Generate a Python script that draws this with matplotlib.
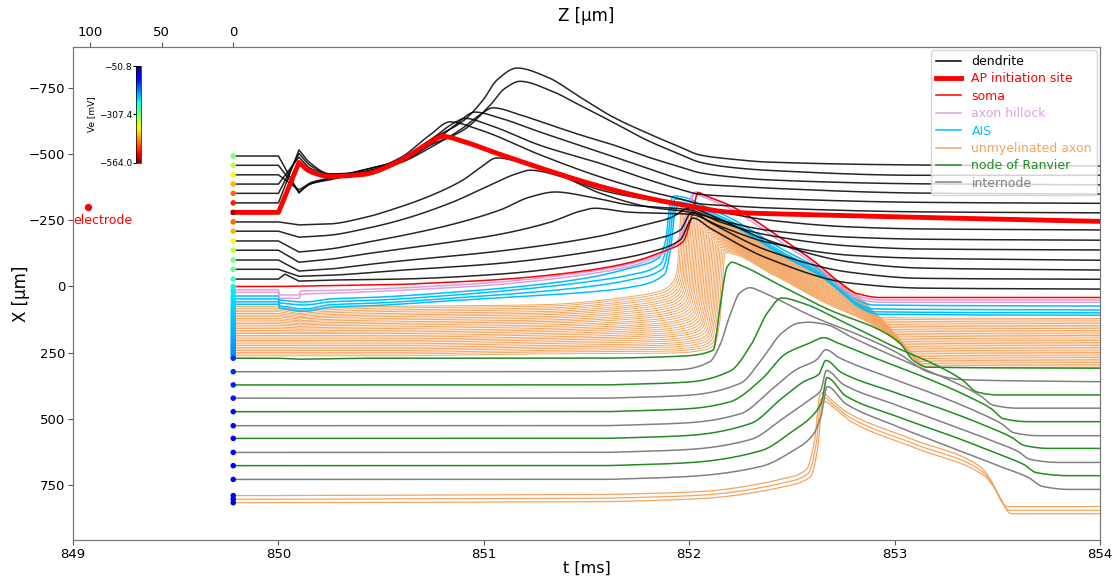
import numpy as np
import matplotlib
matplotlib.use("Agg")
import matplotlib.pyplot as plt
from matplotlib.lines import Line2D
from matplotlib.colors import Normalize
from matplotlib.cm import ScalarMappable

# ---------------- data ----------------
GAIN = 3.778            # um of trace deflection per mV
T0, T1 = 849.78, 854.0  # time span of traces (ms)
STIM_OFF = 850.1
VE_MIN, VE_MAX = -564.0, -50.8
ELECTRODE_T, ELECTRODE_X = 849.075, -301

# dendrites (black) - baseline position X (um), Ve (mV), keypoints (t ms, dV mV)
dend_x = [-493, -458, -422, -387, -352, -316, -244, -209, -172, -137, -100, -65, -28]
dend_ve = [-307, -343, -379, -420, -461, -502, -461, -420, -379, -343, -307, -287, -266]
dend_kp = [
    [(849.78,0),(850.0,0),(850.1,37),(850.154,27),(850.251,22),(850.412,14),(850.592,4),(850.738,-16),(850.899,-35),(850.996,-56),(851.064,-76),(851.162,-88),(851.308,-79),(851.468,-59),(851.629,-39),(851.795,-23),(851.955,-9),(852.053,-1),(852.2,3),(852.379,6),(853.124,9),(854.0,10)],
    [(849.78,0),(850.0,0),(850.1,27),(850.154,19),(850.251,13),(850.412,5),(850.592,-5),(850.738,-20),(850.899,-35),(851.03,-60),(851.103,-77),(851.176,-84),(851.322,-75),(851.468,-60),(851.629,-43),(851.795,-25),(851.955,-11),(852.053,-3),(852.2,2),(852.379,5),(853.124,10),(854.0,10)],
    [(849.78,0),(850.0,0),(850.1,15),(850.154,9),(850.251,5),(850.412,-3),(850.592,-12),(850.738,-27),(850.899,-47),(850.981,-60),(851.045,-67),(851.176,-60),(851.322,-50),(851.468,-40),(851.629,-30),(851.795,-18),(851.955,-8),(852.053,-2),(852.2,2),(852.379,5),(853.124,9),(854.0,10)],
    [(849.78,0),(850.0,0),(850.1,-27),(850.154,-16),(850.251,-9),(850.412,-12),(850.592,-22),(850.738,-39),(850.86,-59),(850.957,-72),(851.079,-66),(851.274,-52),(851.566,-32),(851.795,-16),(851.955,-5),(852.053,0),(852.2,2),(852.379,4),(853.124,9),(854.0,10)],
    [(849.78,0),(850.0,0),(850.1,-40),(850.154,-28),(850.251,-19),(850.412,-21),(850.592,-33),(850.738,-53),(850.86,-71),(850.908,-75),(851.03,-68),(851.274,-48),(851.566,-30),(851.795,-14),(851.955,-4),(852.053,1),(852.2,3),(852.379,5),(853.124,9),(854.0,10)],
    [(849.78,0),(850.0,0),(850.1,-53),(850.154,-40),(850.251,-29),(850.412,-31),(850.592,-45),(850.738,-68),(850.835,-81),(850.981,-73),(851.274,-48),(851.566,-26),(851.795,-12),(851.955,-4),(852.053,1),(852.2,3),(852.379,5),(853.124,9),(854.0,10)],
    [(849.78,0),(850.0,0),(850.1,3),(850.251,2),(850.412,-4),(850.592,-15),(850.738,-26),(850.899,-42),(850.981,-54),(851.064,-64),(851.176,-60),(851.371,-47),(851.566,-32),(851.809,-22),(852.004,-16),(852.15,-10),(852.379,-2),(852.783,5),(853.124,7),(854.0,8)],
    [(849.78,0),(850.0,0),(850.1,6),(850.251,4),(850.412,-2),(850.592,-11),(850.835,-28),(851.03,-46),(851.152,-57),(851.225,-61),(851.371,-55),(851.566,-38),(851.809,-24),(852.004,-19),(852.15,-11),(852.379,-1),(852.783,6),(853.124,8),(854.0,9)],
    [(849.78,0),(850.0,0),(850.1,11),(850.251,8),(850.412,2),(850.592,-5),(850.835,-16),(851.079,-31),(851.225,-44),(851.347,-49),(851.517,-44),(851.712,-36),(852.004,-31),(852.15,-19),(852.379,-6),(852.783,5),(853.124,8),(854.0,9)],
    [(849.78,0),(850.0,0),(850.1,12),(850.251,9),(850.412,4),(850.592,-1),(850.835,-8),(851.079,-16),(851.322,-28),(851.468,-39),(851.541,-42),(851.712,-38),(852.004,-36),(852.15,-24),(852.379,-8),(852.783,5),(853.124,8),(854.0,10)],
    [(849.78,0),(850.0,0),(850.1,11),(850.251,9),(850.412,5),(850.592,1),(851.079,-9),(851.566,-24),(851.76,-34),(851.906,-42),(852.004,-52),(852.101,-45),(852.379,-20),(852.783,2),(853.124,8),(854.0,10)],
    [(849.78,0),(850.0,0),(850.1,7),(850.251,6),(850.592,1),(851.079,-6),(851.566,-19),(851.809,-29),(851.955,-39),(852.013,-57),(852.101,-47),(852.379,-19),(852.783,3),(853.124,9),(854.0,10)],
    [(849.78,0),(850.0,0),(850.032,-5),(850.1,2),(850.251,1),(850.592,0),(851.079,-5),(851.566,-17),(851.809,-27),(851.955,-39),(852.018,-61),(852.101,-51),(852.379,-21),(852.783,4),(853.124,9),(854.0,10)],
]

# AP initiation site (thick red)
apinit_x, apinit_ve = -280, -540
apinit_kp = [(849.78,0),(850.0,0),(850.1,-50),(850.154,-41),(850.251,-36),(850.412,-38),(850.577,-50),(850.738,-70),(850.801,-76),(850.899,-71),(851.079,-58),(851.566,-26),(851.76,-16),(851.955,-8),(852.213,0),(852.539,2),(853.124,5),(854.0,9)]

# soma (thin red)
soma_x, soma_ve = 0, -240
soma_kp = [(849.78,0),(850.0,0),(850.592,-2),(851.079,-7),(851.468,-15),(851.712,-24),(851.872,-35),(851.97,-45),(852.013,-71),(852.043,-94),(852.077,-91),(852.199,-81),(852.442,-49),(852.622,-23),(852.72,-6),(852.817,7),(852.929,11),(854.0,11)]

# axon hillock
hill_x = [13, 22]
hill_ve = [-236, -233]
hill_kp = [
    [(849.78,0),(850.0,0),(850.005,5),(850.1,5),(850.11,1),(850.25,0.5),(850.592,-2),(851.079,-8),(851.468,-17),(851.712,-26),(851.872,-38),(851.955,-50),(852.0,-80),(852.03,-98),(852.07,-95),(852.199,-84),(852.442,-52),(852.622,-26),(852.72,-9),(852.817,6),(852.929,10),(854.0,10)],
    [(849.78,0),(850.0,0),(850.005,6),(850.1,6),(850.11,2),(850.25,1),(850.592,-2),(851.079,-8),(851.468,-17),(851.712,-26),(851.865,-38),(851.945,-52),(851.99,-82),(852.02,-99),(852.06,-96),(852.199,-84),(852.442,-51),(852.622,-26),(852.72,-9),(852.817,6),(852.929,10),(854.0,10)],
]

# AIS (4 lines)
ais_x = [36, 47, 58, 67]
ais_ve = [-230, -228, -226, -224]
ais_kp = [
    [(849.78,0),(850.0,0),(850.005,4),(850.1,6),(850.13,6),(850.25,3),(850.5,1),(850.8,-3),(851.2,-10),(851.5,-18),(851.712,-28),(851.85,-38),(851.885,-55),(851.905,-90),(851.925,-100),(851.99,-98),(852.05,-92),(852.2,-78),(852.442,-48),(852.622,-28),(852.72,-12),(852.8,2),(852.9,9),(854.0,10)],
    [(849.78,0),(850.0,0),(850.005,4),(850.1,6),(850.13,6),(850.25,3),(850.5,1),(850.8,-3),(851.2,-10),(851.5,-17),(851.712,-24),(851.86,-35),(851.893,-55),(851.913,-90),(851.933,-100),(851.995,-98),(852.05,-92),(852.2,-78),(852.442,-48),(852.622,-28),(852.72,-12),(852.8,2),(852.9,10),(854.0,11)],
    [(849.78,0),(850.0,0),(850.005,4),(850.1,7),(850.13,7),(850.25,3),(850.5,1),(850.8,-3),(851.2,-9),(851.5,-15),(851.712,-22),(851.87,-33),(851.901,-55),(851.921,-90),(851.941,-100),(852.0,-98),(852.06,-92),(852.21,-78),(852.45,-48),(852.63,-28),(852.73,-12),(852.81,2),(852.91,10),(854.0,11)],
    [(849.78,0),(850.0,0),(850.005,4),(850.1,7),(850.13,7),(850.25,3),(850.5,1),(850.8,-3),(851.2,-8),(851.5,-12),(851.712,-17),(851.88,-30),(851.909,-55),(851.929,-90),(851.949,-100),(852.005,-98),(852.07,-92),(852.22,-78),(852.46,-48),(852.64,-28),(852.74,-12),(852.82,2),(852.92,10),(854.0,11)],
]

# unmyelinated axon (30 lines): baseline X, Ve, AP peak time, end-of-repolarisation time, pre-AP depolarisation, stimulus dip
ax_x = [76, 82, 89, 95, 102, 108, 114, 121, 127, 134, 140, 146, 153, 159, 166,
        172, 178, 185, 191, 198, 204, 210, 217, 223, 230, 236, 242, 249, 255, 262]
ax_ve = [-226, -225, -223, -222, -221, -219, -218, -217, -215, -214, -213, -211, -210, -209, -207,
         -206, -205, -203, -202, -201, -199, -198, -197, -195, -194, -193, -191, -190, -189, -187]
ax_tpeak = [851.965, 851.972, 851.979, 851.987, 851.994, 852.001, 852.008, 852.015, 852.023, 852.030,
            852.037, 852.044, 852.051, 852.059, 852.066, 852.073, 852.080, 852.087, 852.095, 852.102,
            852.109, 852.116, 852.123, 852.131, 852.138, 852.145, 852.152, 852.159, 852.167, 852.174]
ax_tend = [852.940, 852.947, 852.954, 852.962, 852.969, 852.976, 852.983, 852.991, 852.998, 853.005,
           853.012, 853.020, 853.027, 853.034, 853.041, 853.049, 853.056, 853.063, 853.070, 853.077,
           853.085, 853.092, 853.099, 853.107, 853.114, 853.121, 853.128, 853.135, 853.143, 853.150]
ax_pre = [-10, -9.8, -9.5, -9.3, -9.0, -8.8, -8.5, -8.3, -8.0, -7.8, -7.5, -7.3, -7.0, -6.8, -6.5,
          -6.3, -6.0, -5.8, -5.5, -5.3, -5.0, -4.8, -4.5, -4.3, -4.0, -3.8, -3.5, -3.3, -3.0, -2.8]
ax_stim = [4, 3.8, 3.5, 3.3, 3, 2.8, 2.5, 2.3, 2, 1.8, 1.5, 1.3, 1, 0.8, 0.5,
           0.3, 0, 0, 0, 0, 0, 0, 0, 0, 0, 0, 0, 0, 0, 0]
AX_RAMP = [(850.5, 0.0), (851.3, -2.0)]   # common slow depolarisation of the axon
# shared AP waveform of the unmyelinated axon (rise: dt before peak; fall: fraction of peak->end)
ax_rise_dt = [0.025, 0.01, 0.0]
ax_rise_dv = [-35, -80, -103]
ax_fall_f = [0.25, 0.5, 0.7, 0.8, 0.9, 0.95, 1.0]
ax_fall_dv = [-80, -53, -35, -23, -7, 4, 11]

# myelinated axon: nodes of Ranvier (green) and internodes (gray), alternating
my_x = [271, 322, 372, 422, 473, 526, 574, 627, 677, 729]
my_kind = ['node', 'internode'] * 5
my_ve = [-140, -135, -130, -126, -122, -118, -115, -112, -109, -106]
my_kp = [
    [(849.78,0),(850.0,0),(850.1,1),(850.5,0),(851.5,0),(851.955,-2),(852.116,-8),(852.15,-51),(852.184,-91),(852.207,-96),(852.25,-93),(852.442,-73),(852.686,-48),(852.929,-28),(853.026,-15),(853.09,2),(853.158,9),(854.0,10)],
    [(849.78,0),(851.5,0),(851.955,-2),(852.1,-10),(852.15,-27),(852.199,-57),(852.247,-79),(852.296,-84),(852.35,-80),(852.603,-55),(852.846,-35),(853.012,-19),(853.172,1),(853.333,8),(854.0,10)],
    [(849.78,0),(851.6,0),(852.0,-3),(852.2,-14),(852.3,-40),(852.38,-72),(852.45,-87),(852.55,-82),(852.75,-63),(853.0,-38),(853.2,-20),(853.33,-5),(853.40,7),(853.5,10),(854.0,10)],
    [(849.78,0),(851.6,0),(852.0,-3),(852.25,-15),(852.35,-38),(852.45,-65),(852.53,-75),(852.58,-76),(852.66,-74),(852.8,-60),(853.05,-37),(853.3,-15),(853.42,-2),(853.48,7),(853.6,10),(854.0,10)],
    [(849.78,0),(851.6,0),(852.0,-3),(852.2,-10),(852.35,-32),(852.47,-58),(852.58,-68),(852.655,-74),(852.72,-69),(852.9,-54),(853.15,-34),(853.35,-16),(853.47,-3),(853.53,7),(853.65,10),(854.0,10)],
    [(849.78,0),(851.6,0),(852.0,-3),(852.25,-12),(852.4,-36),(852.52,-56),(852.62,-66),(852.665,-76),(852.73,-68),(852.95,-50),(853.2,-31),(853.4,-14),(853.52,-2),(853.58,7),(853.7,10),(854.0,10)],
    [(849.78,0),(851.6,0),(852.0,-3),(852.3,-15),(852.45,-40),(852.56,-57),(852.63,-64),(852.665,-78),(852.74,-66),(853.0,-46),(853.25,-28),(853.45,-12),(853.57,-1),(853.63,7),(853.75,10),(854.0,10)],
    [(849.78,0),(851.6,0),(852.0,-3),(852.3,-13),(852.45,-33),(852.58,-52),(852.64,-62),(852.668,-82),(852.75,-68),(853.0,-48),(853.25,-29),(853.47,-12),(853.6,-1),(853.66,7),(853.8,10),(854.0,10)],
    [(849.78,0),(851.6,0),(852.0,-3),(852.35,-15),(852.5,-34),(852.6,-50),(852.645,-64),(852.67,-88),(852.76,-70),(853.0,-50),(853.3,-28),(853.5,-12),(853.63,-1),(853.69,7),(853.85,10),(854.0,10)],
    [(849.78,0),(851.6,0),(852.0,-3),(852.35,-13),(852.5,-28),(852.6,-44),(852.64,-62),(852.672,-93),(852.76,-76),(853.0,-54),(853.3,-30),(853.5,-14),(853.65,-2),(853.72,7),(853.85,10),(854.0,10)],
]

# terminal unmyelinated axon (3 lines)
term_x = [790, 804, 817]
term_ve = [-102, -100, -98]
term_kp = [
    [(849.78,0),(850.0,0),(851.6,-1),(852.05,-4),(852.44,-16),(852.57,-26),(852.61,-55),(852.635,-100),(852.647,-103),(852.69,-96),(852.77,-83),(853.09,-56),(853.416,-29),(853.47,-15),(853.5,-3),(853.547,11),(854.0,11)],
    [(849.78,0),(850.0,0),(851.6,-1),(852.05,-4),(852.45,-16),(852.58,-26),(852.618,-55),(852.641,-100),(852.653,-102),(852.70,-95),(852.78,-82),(853.10,-55),(853.426,-28),(853.48,-14),(853.51,-2),(853.557,11),(854.0,11)],
    [(849.78,0),(850.0,0),(851.6,-1),(852.05,-4),(852.46,-16),(852.59,-26),(852.626,-55),(852.647,-100),(852.659,-101),(852.71,-94),(852.79,-81),(853.11,-54),(853.436,-27),(853.49,-13),(853.52,-1),(853.567,11),(854.0,11)],
]

# ---------------- helpers ----------------
def pchip(xk, yk, x):
    xk = np.asarray(xk, float); yk = np.asarray(yk, float)
    h = np.diff(xk); d = np.diff(yk) / h
    n = len(xk)
    m = np.zeros(n)
    m[0], m[-1] = d[0], d[-1]
    for k in range(1, n - 1):
        if d[k - 1] * d[k] > 0:
            w1 = 2 * h[k] + h[k - 1]; w2 = h[k] + 2 * h[k - 1]
            m[k] = (w1 + w2) / (w1 / d[k - 1] + w2 / d[k])
    idx = np.clip(np.searchsorted(xk, x) - 1, 0, n - 2)
    s = (x - xk[idx]) / h[idx]
    h00 = 2 * s**3 - 3 * s**2 + 1; h10 = s**3 - 2 * s**2 + s
    h01 = -2 * s**3 + 3 * s**2; h11 = s**3 - s**2
    return h00 * yk[idx] + h10 * h[idx] * m[idx] + h01 * yk[idx + 1] + h11 * h[idx] * m[idx + 1]

t = np.arange(T0, T1 + 1e-9, 0.002)

def trace(kp):
    tk = np.array([p[0] for p in kp]); vk = np.array([p[1] for p in kp])
    out = np.interp(t, tk, vk)
    sel = tk >= STIM_OFF - 1e-9
    if sel.sum() >= 2:
        tk2, vk2 = tk[sel], vk[sel]
        mask = t >= tk2[0]
        out[mask] = pchip(tk2, vk2, t[mask])
    return out

def axon_kp(i):
    tp, te, pre, s = ax_tpeak[i], ax_tend[i], ax_pre[i], ax_stim[i]
    kp = [(T0, 0), (850.0, 0), (850.1, s), (850.2, s * 0.5)] + AX_RAMP
    kp += [(tp - 0.25, pre), (tp - 0.1, pre * 1.4 - 2), (tp - 0.05, pre * 1.6 - 7)]
    kp += [(tp - dt, v) for dt, v in zip(ax_rise_dt, ax_rise_dv)]
    kp += [(tp + f * (te - tp), v) for f, v in zip(ax_fall_f, ax_fall_dv)]
    kp += [(T1, 12)]
    return kp

# ---------------- figure ----------------
fig = plt.figure(figsize=(11.2, 5.78), dpi=100)
ax = fig.add_axes([0.0652, 0.0657, 0.917, 0.853])

C_DEND, C_AP, C_SOMA = 'black', 'red', 'red'
C_HILL, C_AIS, C_AX = 'plum', 'deepskyblue', 'sandybrown'
C_NODE, C_INT = 'forestgreen', 'gray'

for i, x0 in enumerate(ax_x):
    ax.plot(t, x0 + GAIN * trace(axon_kp(i)), color=C_AX, lw=0.7, zorder=2)
for x0, kp in zip(term_x, term_kp):
    ax.plot(t, x0 + GAIN * trace(kp), color=C_AX, lw=0.9, zorder=2)
for x0, kp in zip(ais_x, ais_kp):
    ax.plot(t, x0 + GAIN * trace(kp), color=C_AIS, lw=1.1, zorder=3)
for x0, kp in zip(hill_x, hill_kp):
    ax.plot(t, x0 + GAIN * trace(kp), color=C_HILL, lw=1.1, zorder=3)
ax.plot(t, soma_x + GAIN * trace(soma_kp), color=C_SOMA, lw=1.1, zorder=3)
for x0, kind, kp in zip(my_x, my_kind, my_kp):
    ax.plot(t, x0 + GAIN * trace(kp), color=C_NODE if kind == 'node' else C_INT, lw=1.1, zorder=3)
for x0, kp in zip(dend_x, dend_kp):
    ax.plot(t, x0 + GAIN * trace(kp), color=C_DEND, lw=1.1, alpha=0.85, zorder=4)
ax.plot(t, apinit_x + GAIN * trace(apinit_kp), color=C_AP, lw=3.5, zorder=5)

# compartment markers coloured by extracellular potential
norm = Normalize(vmin=VE_MIN, vmax=VE_MAX)
all_x = dend_x + [apinit_x, soma_x] + hill_x + ais_x + ax_x + my_x + term_x
all_ve = dend_ve + [apinit_ve, soma_ve] + hill_ve + ais_ve + ax_ve + my_ve + term_ve
ax.scatter([T0] * len(all_x), all_x, c=all_ve, cmap='jet_r', norm=norm, s=16, zorder=6, linewidths=0)

# electrode
ax.scatter([ELECTRODE_T], [ELECTRODE_X], color='red', s=18, zorder=6)
ax.text(849.146, -249, 'electrode', color='red', fontsize=9, ha='center', va='center')

ax.set_xlim(849, 854)
ax.set_ylim(958, -905)
ax.set_xticks([849, 850, 851, 852, 853, 854])
ax.set_yticks([-750, -500, -250, 0, 250, 500, 750])
ax.tick_params(labelsize=9.5, color='#555555', pad=2)
ax.set_xlabel('t [ms]', fontsize=11.5, labelpad=0)
ax.set_ylabel('X [µm]', fontsize=12, labelpad=-1)
for sp in ax.spines.values():
    sp.set_color('#777777')

ax2 = ax.twiny()
ax2.set_xlim(111.9, -606)
ax2.set_xticks([100, 50, 0])
ax2.tick_params(labelsize=9.5, color='#555555', pad=2)
ax2.set_xlabel('Z [µm]', fontsize=12, labelpad=4)
for sp in ax2.spines.values():
    sp.set_color('#777777')

# colorbar inset
cax = fig.add_axes([0.1214, 0.7185, 0.0045, 0.167])
sm = ScalarMappable(norm=norm, cmap='jet_r')
cb = fig.colorbar(sm, cax=cax, ticks=[-564.0, -307.4, -50.8])
cb.set_ticklabels(['\u2212564.0', '\u2212307.4', '\u221250.8'])
cax.yaxis.set_ticks_position('left')
cax.yaxis.set_label_position('left')
cax.tick_params(labelsize=6.5, length=2, pad=1)
cb.set_label('Ve [mV]', fontsize=6.5, labelpad=2)
cb.outline.set_linewidth(0.5)

# legend
handles = [Line2D([], [], color=C_DEND, lw=1.1), Line2D([], [], color=C_AP, lw=3.5),
           Line2D([], [], color=C_SOMA, lw=1.1), Line2D([], [], color=C_HILL, lw=1.1),
           Line2D([], [], color=C_AIS, lw=1.1), Line2D([], [], color=C_AX, lw=1.1),
           Line2D([], [], color=C_NODE, lw=1.1), Line2D([], [], color=C_INT, lw=1.1)]
labels = ['dendrite', 'AP initiation site', 'soma', 'axon hillock', 'AIS',
          'unmyelinated axon', 'node of Ranvier', 'internode']
leg = ax.legend(handles, labels, loc='upper right', fontsize=9, labelspacing=0.35,
                borderaxespad=0.25, framealpha=0.8, handlelength=2.0)
leg.set_zorder(10)
for txt, h in zip(leg.get_texts(), handles):
    txt.set_color(h.get_color())

fig.savefig('out.png', dpi=100)
